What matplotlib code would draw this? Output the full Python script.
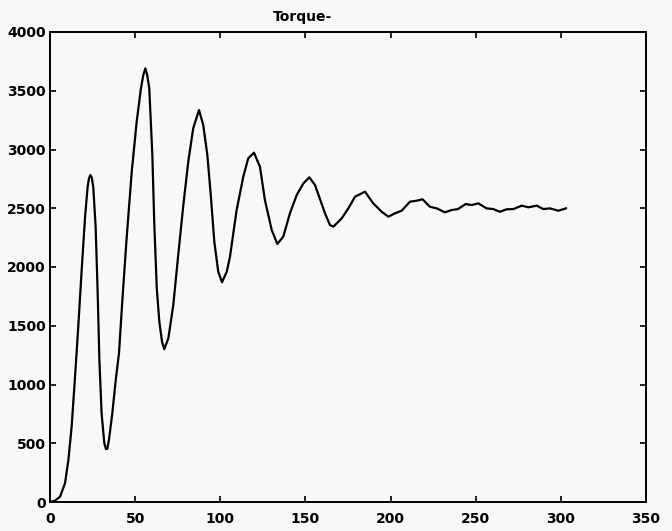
import matplotlib
matplotlib.use('Agg')
import matplotlib.pyplot as plt

# values
time = [
    0, 2.9, 5.9, 8.8, 10.8, 12.7, 14.7, 16.6, 18.6, 20.6, 22.1, 22.9, 23.7,
    24.5, 25.4, 26.8, 28.0, 29.0, 30.3, 31.9, 32.9, 33.7, 34.6, 36.6, 38.6,
    40.5, 42.5, 45.0, 48.0, 50.9, 53.4, 54.8, 56.0, 57.1, 58.3, 60.1, 61.2,
    62.7, 64.2, 65.8, 67.1, 69.5, 72.4, 75.3, 78.3, 81.2, 84.1, 87.5, 90.0,
    92.4, 94.4, 96.5, 98.8, 101.0, 103.8, 105.7, 109.6, 113.5, 116.4, 119.8,
    123.3, 126.2, 130.2, 133.5, 137.0, 140.9, 144.9, 148.8, 152.3, 155.6,
    158.5, 161.5, 164.4, 166.4, 171.3, 175.2, 179.1, 185.0, 189.8, 194.8,
    198.7, 202.6, 206.5, 211.4, 215.3, 218.8, 223.1, 227.1, 231.9, 235.9,
    239.6, 244.1, 247.6, 251.5, 256.4, 260.3, 264.2, 268.1, 272.1, 277.0,
    280.9, 285.8, 289.7, 293.6, 298.5, 303.0,
]
torque = [
    0, 11, 45, 159, 357, 641, 1066, 1492, 1974, 2428, 2683, 2755, 2783,
    2763, 2683, 2343, 1776, 1208, 755, 500, 450, 454, 528, 755, 1038,
    1265, 1719, 2244, 2811, 3236, 3520, 3634, 3690, 3634, 3520, 2953, 2385,
    1819, 1534, 1364, 1300, 1393, 1676, 2102, 2527, 2896, 3180, 3336, 3208,
    2953, 2613, 2215, 1960, 1870, 1960, 2088, 2485, 2768, 2924, 2973,
    2853, 2570, 2315, 2196, 2258, 2457, 2613, 2712, 2763, 2698,
    2580, 2457, 2357, 2343, 2414, 2499, 2598, 2641, 2542, 2470,
    2428, 2457, 2479, 2556, 2564, 2576, 2513, 2499, 2465, 2485,
    2493, 2536, 2527, 2542, 2499, 2493, 2470, 2491, 2493, 2522,
    2508, 2522, 2493, 2499, 2479, 2499,
]

x_ticks = list(range(0, 351, 50))
y_ticks = list(range(0, 4001, 500))

fig = plt.figure(figsize=(6.72, 5.31), dpi=100, facecolor='#f8f8f8')
ax = fig.add_axes([50 / 672, 29 / 531, 596 / 672, 470 / 531])
ax.set_facecolor('#f8f8f8')

ax.plot(time, torque, color='black', linewidth=1.6)

ax.set_xlim(0, 350)
ax.set_ylim(0, 4000)
ax.set_xticks(x_ticks)
ax.set_yticks(y_ticks)
ax.tick_params(direction='in', length=4, width=1.2, top=True, right=True,
               labelsize=10, pad=3)
ax.tick_params(axis='x', pad=7)
for lbl in ax.get_xticklabels() + ax.get_yticklabels():
    lbl.set_fontweight('bold')
for side in ax.spines.values():
    side.set_linewidth(1.4)

# title sits left of centre in the original
ax.set_title('Torque-', fontsize=10, fontweight='bold', x=0.423, pad=8)

plt.savefig('out.png', dpi=100, facecolor=fig.get_facecolor())
